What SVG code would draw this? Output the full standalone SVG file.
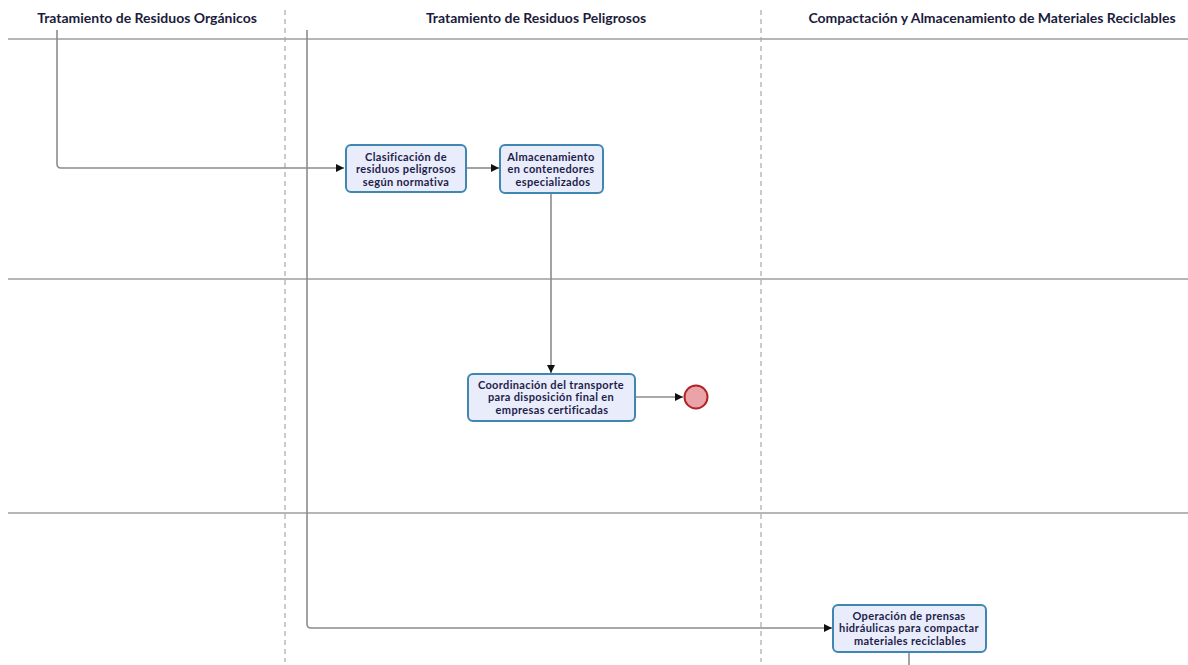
<svg xmlns="http://www.w3.org/2000/svg" width="1188" height="665" viewBox="0 0 1188 665">
  <style>
    .lane { stroke: #6e6e6e; stroke-width: 1.2; fill: none; }
    .sep { stroke: #a8a8a8; stroke-width: 1.2; stroke-dasharray: 5 4; fill: none; }
    .flow { stroke: #8c8c8c; stroke-width: 1.6; fill: none; }
    .task { fill: #e9ecfb; stroke: #3f86b0; stroke-width: 2; }
    .head { font-family: Lato, "Open Sans", "Liberation Sans", sans-serif; font-weight: bold; font-size: 14px; fill: #1c1c3c; text-anchor: middle; }
    .label { font-family: Lato, "Open Sans", "Liberation Sans", sans-serif; font-weight: bold; font-size: 11px; letter-spacing: 0.35px; fill: #1e1e4a; text-anchor: middle; }
    .end { fill: #eaa3a6; stroke: #b3232a; stroke-width: 2; }
  </style>
  <defs>
    <marker id="arrow" viewBox="0 0 10 10" refX="10" refY="5" markerWidth="8" markerHeight="8" markerUnits="userSpaceOnUse" orient="auto">
      <path d="M0,0 L10,5 L0,10 Z" fill="#111"/>
    </marker>
  </defs>
  <rect width="1188" height="665" fill="#ffffff"/>

  <!-- lane headers -->
  <g id="headers">
    <text class="head" x="147" y="23">Tratamiento de Residuos Orgánicos</text>
    <text class="head" x="536" y="23">Tratamiento de Residuos Peligrosos</text>
    <text class="head" x="992" y="23">Compactación y Almacenamiento de Materiales Reciclables</text>
  </g>

  <!-- lane grid -->
  <g id="lanes">
    <line class="lane" x1="8" y1="39" x2="1188" y2="39"/>
    <line class="lane" x1="8" y1="279" x2="1188" y2="279"/>
    <line class="lane" x1="8" y1="513" x2="1188" y2="513"/>
    <line class="sep" x1="285" y1="10" x2="285" y2="662"/>
    <line class="sep" x1="761" y1="10" x2="761" y2="662"/>
  </g>

  <!-- sequence flows -->
  <g id="connectors">
    <path class="flow" d="M57,30 V164 Q57,168 61,168 H344" marker-end="url(#arrow)"/>
    <path class="flow" d="M307,30 V624 Q307,628 311,628 H832" marker-end="url(#arrow)"/>
    <path class="flow" d="M467,168 H499" marker-end="url(#arrow)"/>
    <path class="flow" d="M551,193 V373" marker-end="url(#arrow)"/>
    <path class="flow" d="M635,397 H683" marker-end="url(#arrow)"/>
    <path class="flow" d="M909,652 V665"/>
  </g>

  <g id="task-clasificacion">
    <rect class="task" x="346" y="145" width="120" height="47" rx="5"/>
    <text class="label" x="406" y="160.5">Clasificación de</text>
    <text class="label" x="406" y="173">residuos peligrosos</text>
    <text class="label" x="406" y="185.5">según normativa</text>
  </g>

  <g id="task-almacenamiento">
    <rect class="task" x="500" y="145" width="103" height="48" rx="5"/>
    <text class="label" x="551" y="160.5">Almacenamiento</text>
    <text class="label" x="551" y="173">en contenedores</text>
    <text class="label" x="553" y="185.5">especializados</text>
  </g>

  <g id="task-coordinacion">
    <rect class="task" x="468" y="374" width="167" height="47" rx="5"/>
    <text class="label" x="551" y="388.5">Coordinación del transporte</text>
    <text class="label" x="551" y="401">para disposición final en</text>
    <text class="label" x="552" y="413.5">empresas certificadas</text>
  </g>

  <g id="end-event">
    <circle class="end" cx="696" cy="397" r="11.5"/>
  </g>

  <g id="task-prensas">
    <rect class="task" x="833" y="605" width="153" height="47" rx="5"/>
    <text class="label" x="909" y="619.5">Operación de prensas</text>
    <text class="label" x="909" y="632">hidráulicas para compactar</text>
    <text class="label" x="910" y="644.5">materiales reciclables</text>
  </g>
</svg>
